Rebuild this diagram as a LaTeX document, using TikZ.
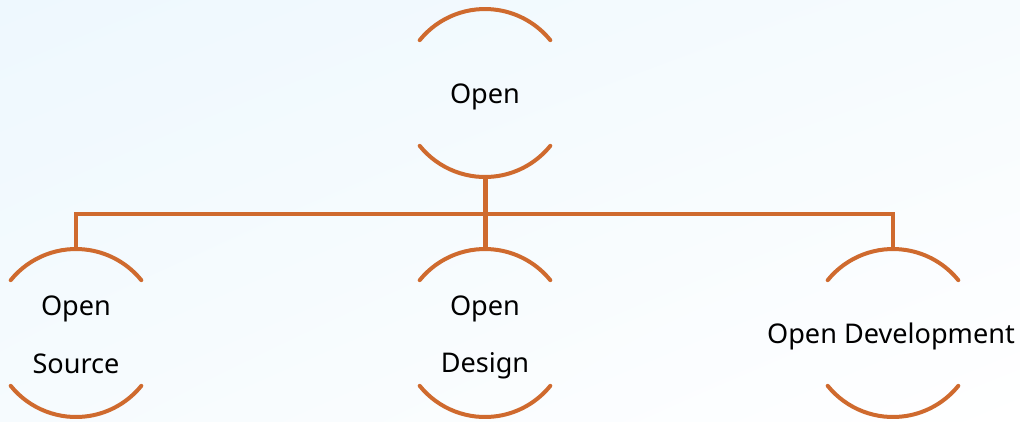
\documentclass[tikz,border=0pt]{standalone}
\usepackage{fontspec}
\setmainfont{Noto Sans}
\usetikzlibrary{shadings}
\definecolor{arcorange}{RGB}{207,106,46}
\definecolor{bgblue}{RGB}{238,248,254}
\definecolor{bgmid}{RGB}{246,251,254}
\begin{document}
\begin{tikzpicture}[x=1bp,y=-1bp,
  ring/.style={circle,minimum size=168bp,inner sep=0pt,outer sep=0pt},
  label text/.style={anchor=base,align=center,inner sep=0pt,
    font={\fontsize{27.2}{57.5}\selectfont},text=black},
  arcline/.style={draw=arcorange,line width=4bp,line cap=round},
  link/.style={draw=arcorange,line width=4bp}]
\useasboundingbox (0,0) rectangle (1020,421);
\shade[upper left=bgblue,upper right=bgmid,lower left=bgmid,lower right=white] (0,0) rectangle (1020,421);
% ring shapes
\node[ring] (top) at (485,93) {};
\node[ring] (src) at (76,333) {};
\node[ring] (des) at (485,333) {};
\node[ring] (dev) at (893,333) {};
\foreach \n in {top,src,des,dev}{
  \draw[arcline] (\n.141) arc[start angle=141,end angle=39,radius=84bp];
  \draw[arcline] (\n.219) arc[start angle=219,end angle=321,radius=84bp];
}
% texts
\node[label text] (topt) at (485,103) {Open};
\node[label text] (srct) at (76,373) {Open\\Source};
\node[label text] (dest) at (485,372.5) {Open\\Design};
\node[label text] (devt) at (891,343) {Open Development};
% connectors
\draw[link] (src.north) -- ++(0,-35) -| (dev.north);
\draw[link,line width=5bp] (top.south) -- (des.north);
\end{tikzpicture}
\end{document}
